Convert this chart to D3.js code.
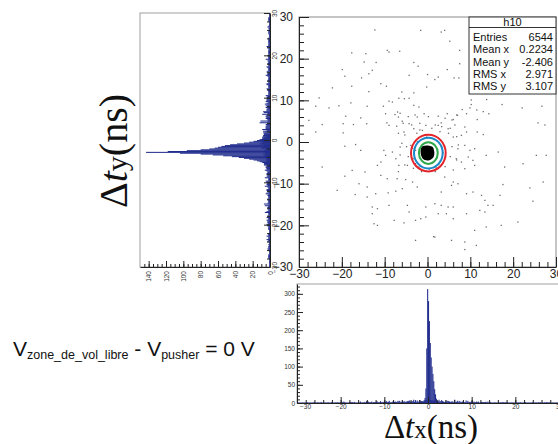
<!DOCTYPE html>
<html><head><meta charset="utf-8">
<script src="https://cdn.jsdelivr.net/npm/d3@7"></script>
<style>body{margin:0;background:#fff}svg{display:block}</style>
</head><body>
<svg id="c" width="558" height="444"></svg>
<script>
// ---------------- DATA ----------------
const axisTicks = [-30, -20, -10, 0, 10, 20, 30];
const xHistCountTicks = [0, 50, 100, 150, 200, 250, 300];
const yHistCountTicks = [0, 20, 40, 60, 80, 100, 120, 140];
const binWidth = 0.2;

// Projection on x (bottom histogram): core bins
const xHistCenters = [-1.1, -0.9, -0.7, -0.5, -0.3, -0.1, 0.1, 0.3, 0.5, 0.7, 0.9, 1.1, 1.3, 1.5, 1.7, 1.9, 2.1, 2.3, 2.5];
const xHistCounts  = [3, 6, 14, 40, 150, 313, 280, 225, 165, 125, 100, 80, 60, 38, 24, 12, 6, 3, 2];
// Tail level of the x projection, per 1 ns from -30 to 30 (counts per bin)
const xTailLevel = [1,1,1,1,1,1,1,1,1,1, 1,1,1,1,1,1,2,1,2,2, 2,2,2,2,2,3,3,3,4,6, 8,5,4,3,3,2,2,2,2,2, 2,1,2,1,1,1,1,1,1,1, 1,1,1,1,1,1,1,1,1,1];

// Projection on y (left, rotated histogram): core bins
const yHistCenters = [1.1, 0.9, 0.7, 0.5, 0.3, 0.1, -0.1, -0.3, -0.5, -0.7, -0.9, -1.1, -1.3, -1.5, -1.7, -1.9, -2.1, -2.3, -2.5, -2.7, -2.9, -3.1, -3.3, -3.5, -3.7, -3.9, -4.1, -4.3, -4.5, -4.7, -4.9, -5.1, -5.3, -5.5, -5.7, -5.9, -6.1, -6.3];
const yHistCounts  = [3, 4, 5, 7, 9, 12, 15, 19, 24, 30, 38, 46, 52, 56, 60, 64, 70, 80, 96, 118, 143, 104, 80, 66, 54, 44, 36, 30, 24, 19, 15, 12, 9, 7, 5, 4, 3, 2];
// Tail level of the y projection, per 1 ns from -30 to 30 (counts per bin)
const yTailLevel = [1,1,2,1,2,1,2,2,1,2, 2,2,2,2,2,2,2,2,2,3, 2,3,3,3,3,3,4,5,6,8, 8,6,4,3,3,3,3,3,2,3, 2,2,2,2,2,2,2,2,2,2, 2,1,2,2,1,2,1,1,2,1];

// Scatter points [dtx, dty] (ns)
const scatterQ1 = [[-12.3,26.9],[-1.6,26.8],[-17.7,21.4],[-14.4,21.2],[-9.4,22.0],[-9.0,21.6],[-6.5,21.8],[-14.8,19.2],[-12.0,19.1],[-3.2,19.1],[-19.9,17.4],[-2.2,18.2],[-19.3,15.8],[-12.9,17.2],[-13.7,16.4],[-15.4,15.4],[-4.3,16.0],[0.0,16.2],[-10.9,14.0],[-9.6,13.4],[-22.2,13.0],[-17.7,13.4],[-13.7,12.1],[-6.0,12.0],[-0.2,13.2],[-25.3,10.6],[-6.7,10.5],[-5.4,10.4],[-4.3,10.5],[-3.2,11.8],[-8.2,9.6],[-26.1,8.6],[-23.0,8.2],[-20.7,8.7],[-17.9,9.4],[-14.1,8.6],[-10.3,8.6],[-9.0,9.8],[-3.2,8.8],[-2.0,8.4],[-27.7,5.2],[-19.1,6.2],[-15.6,5.8],[-9.8,6.8],[-7.6,6.6],[-7.0,7.2],[-6.8,6.0],[-5.9,5.0],[-2.4,6.0],[-0.8,6.8],[-24.6,4.2],[-19.7,4.4],[-17.3,4.2],[-14.2,4.4],[-9.5,4.6],[-9.0,4.0],[-7.2,3.8],[-4.3,4.4],[-26.1,2.4],[-19.7,2.2],[-5.5,2.4],[-3.2,3.2],[-1.2,2.8],[-0.4,4.0]];
const scatterQ2 = [[3.2,26.4],[4.0,26.8],[5.2,24.2],[7.5,22.0],[7.5,18.8],[4.6,17.4],[6.2,15.4],[7.3,15.4],[1.7,15.0],[2.5,15.6],[10.2,9.0],[8.1,7.8],[9.9,8.2],[4.6,6.8],[7.0,6.4],[9.1,6.8],[6.0,5.4],[3.2,4.6],[11.6,5.4],[14.3,6.8],[17.4,9.0],[22.1,8.2],[26.7,8.6],[25.8,4.6],[27.4,4.1],[8.7,3.6],[4.8,3.2],[9.1,2.4],[11.6,2.4],[7.9,1.6],[13.0,1.8],[2.5,4.0],[6.0,1.2],[10.2,10.1],[13.8,10.2],[11.5,7.7],[13.0,7.3]];
const scatterQ3 = [[-19.3,-1.0],[-16.8,-0.6],[-15.6,-2.0],[-24.6,-6.0],[-10.2,-2.0],[-9.8,-3.2],[-8.2,-2.4],[-7.4,-4.0],[-10.9,-4.8],[-11.7,-5.6],[-6.7,-5.6],[-4.7,-5.6],[-17.6,-6.8],[-14.6,-7.2],[-19.3,-8.2],[-16.0,-10.0],[-14.1,-10.8],[-10.9,-8.0],[-9.4,-8.8],[-7.1,-8.8],[-5.1,-9.0],[-3.5,-9.6],[-21.1,-11.6],[-16.9,-12.6],[-14.1,-13.2],[-12.1,-12.4],[-9.2,-12.2],[-7.4,-11.8],[-5.9,-11.2],[-2.4,-10.8],[-12.9,-15.6],[-11.7,-16.0],[-9.0,-15.2],[-4.7,-15.2],[-4.3,-16.8],[-0.4,-15.6],[-12.9,-17.2],[-12.5,-19.6],[-11.7,-20.0],[-7.8,-18.8],[-5.5,-19.4],[-2.8,-18.8],[-1.6,-18.4],[-0.4,-18.0],[-2.8,-23.6],[-3.9,-0.8],[-2.8,-2.0],[-6.4,-1.2],[1.4,-22.7]];
const scatterQ4 = [[7.1,-1.6],[8.7,-0.8],[9.9,-2.0],[11.0,-1.6],[6.7,-4.0],[7.9,-4.8],[9.5,-3.6],[10.6,-4.4],[11.0,-5.6],[8.7,-6.4],[13.7,-3.2],[16.5,-2.4],[18.0,-6.0],[22.3,-5.2],[25.4,-3.2],[27.7,-3.2],[27.0,-9.6],[23.9,-11.0],[17.6,-10.2],[16.9,-12.8],[24.6,-14.2],[6.0,-9.6],[4.0,-8.4],[5.6,-10.4],[7.1,-10.0],[3.2,-12.0],[9.1,-12.4],[10.6,-12.0],[12.6,-12.8],[13.4,-14.0],[14.1,-15.2],[15.3,-15.2],[1.7,-14.8],[3.2,-15.2],[4.8,-15.6],[6.0,-15.6],[2.5,-17.2],[4.4,-17.2],[6.0,-18.4],[9.1,-17.2],[12.2,-16.4],[13.4,-16.8],[13.7,-20.4],[17.2,-20.0],[21.1,-19.2],[11.0,-21.2],[1.7,-22.8],[5.6,-23.6],[8.7,-24.0],[11.4,-24.8],[8.7,-25.8]];
const scatterHalo = [[-6.4,6.9],[-4.5,6.1],[-2.9,6.5],[0.2,6.1],[2.5,6.2],[4.1,5.7],[5.7,5.3],[6.8,6.5],[-5.7,4.5],[-3.7,4.1],[-1.8,4.5],[1.8,4.1],[3.3,3.7],[5.3,3.3],[6.4,4.1],[-6.8,2.1],[-5.3,1.7],[4.9,2.1],[6.8,1.3],[-6.0,-0.3],[-4.9,-1.1],[5.7,-1.1],[7.2,-0.7],[-6.4,-3.1],[-4.5,-3.5],[5.3,-3.5],[6.8,-4.3],[-5.3,-5.5],[-3.3,-6.3],[-1.4,-7.1],[1.8,-7.1],[4.1,-5.9],[6.0,-6.7],[-6.8,-7.1],[1.0,3.3],[-1.8,2.9],[-2.5,2.1],[2.9,2.5],[-3.5,-1.5],[-3.2,-4.0],[3.3,-1.0],[3.0,-4.5],[-2.0,-6.0],[2.0,-6.2],[-1.0,0.8],[1.5,0.6],[-3.8,-2.8],[3.6,-2.6],[-2.8,-5.2],[2.6,-5.4],[-2.4,0.1],[2.3,0.2],[-0.2,1.2],[0.4,-6.5]];

// Saturated core of the 2D histogram (outline)
const coreX = [-1.3, -0.6, 0.4, 1.2, 1.5, 1.6, 1.3, 0.6, -0.4, -1.1, -1.5, -1.6];
const coreY = [-1.1, -0.9, -0.9, -1.2, -1.9, -2.9, -3.8, -4.3, -4.4, -4.0, -3.2, -2.0];

// Contour levels (ellipse half-axes in ns)
const contourCX = 0.2, contourCY = -2.65;
const contourRX = [4.05, 3.35, 2.2];
const contourRY = [4.4, 3.7, 2.6];
const contourColors = ["#e3242b", "#1b88c8", "#2ea84a"];

// Stats box
const statsTitle = "h10";
const statsLabels = ["Entries", "Mean x", "Mean y", "RMS x", "RMS y"];
const statsValues = ["6544", "0.2234", "-2.406", "2.971", "3.107"];

// ---------------- DRAW ----------------
const sans = "'Liberation Sans', Arial, sans-serif";
const serif = "'Liberation Serif', 'Times New Roman', serif";
const histColor = "#232f8e";
const svg = d3.select("#c");
svg.append("rect").attr("width", 558).attr("height", 444).attr("fill", "#fff");

const allPoints = scatterQ1.concat(scatterQ2, scatterQ3, scatterQ4, scatterHalo);
const tailEdges = d3.range(-30, 30, binWidth);

function styleAxis(g, size, color) {
  g.attr("font-family", sans).attr("font-size", size);
  g.selectAll("text").attr("fill", color || "#222");
  g.selectAll("line").attr("stroke", "#222");
  g.select(".domain").attr("stroke", "#222");
}
function minorOnly(g) {
  g.select(".domain").remove();
  g.selectAll("text").remove();
}
// tail bins: typed level per ns + binned scatter entries on top
function tailBins(values, level) {
  const bins = d3.bin().domain([-30, 30]).thresholds(tailEdges)(values);
  return bins.map(b => ({ x0: b.x0, x1: b.x1, n: level[Math.min(59, Math.floor(b.x0 + 30 + 1e-6))] + b.length }));
}

// ===== Main scatter =====
const mx = d3.scaleLinear().domain([-30, 30]).range([299, 556]);
const my = d3.scaleLinear().domain([-30, 30]).range([267, 17]);

svg.append("rect").attr("x", mx(-30)).attr("y", my(30)).attr("width", mx(30) - mx(-30)).attr("height", my(-30) - my(30))
  .attr("fill", "#fff").attr("stroke", "#8a8a8a").attr("stroke-width", 1);

svg.append("g").selectAll("rect").data(allPoints).join("rect")
  .attr("x", d => mx(d[0]) - 0.6).attr("y", d => my(d[1]) - 0.6)
  .attr("width", 1.3).attr("height", 1.3).attr("fill", "#6e6e6e");

svg.append("path")
  .attr("d", d3.line().x(d => mx(d[0])).y(d => my(d[1])).curve(d3.curveCatmullRomClosed)(coreX.map((x, i) => [x, coreY[i]])))
  .attr("fill", "#000");

svg.append("g").selectAll("ellipse").data(contourRX).join("ellipse")
  .attr("cx", mx(contourCX)).attr("cy", my(contourCY))
  .attr("rx", d => mx(d) - mx(0)).attr("ry", (d, i) => my(0) - my(contourRY[i]))
  .attr("fill", "none").attr("stroke", (d, i) => contourColors[i]).attr("stroke-width", 2);

svg.append("g").attr("transform", `translate(${mx(-30)},0)`)
  .call(d3.axisLeft(my).tickValues(d3.range(-30, 31, 2)).tickSize(-5).tickSizeOuter(0))
  .call(minorOnly).call(g => styleAxis(g, 12));
svg.append("g").attr("transform", `translate(${mx(-30)},0)`)
  .call(d3.axisLeft(my).tickValues(axisTicks).tickSize(-10).tickPadding(6).tickSizeOuter(0))
  .call(g => styleAxis(g, 12));
svg.append("g").attr("transform", `translate(0,${my(-30)})`)
  .call(d3.axisBottom(mx).tickValues(d3.range(-30, 31, 2)).tickSize(-5).tickSizeOuter(0))
  .call(minorOnly).call(g => styleAxis(g, 12));
svg.append("g").attr("transform", `translate(0,${my(-30)})`)
  .call(d3.axisBottom(mx).tickValues(axisTicks).tickSize(-10).tickPadding(2).tickSizeOuter(0))
  .call(g => styleAxis(g, 12));

// Stats box
const sb = { x: 469, y: 17, w: 87, h: 77 };
const stats = svg.append("g").attr("font-family", sans).attr("font-size", 11).attr("fill", "#111");
stats.append("rect").attr("x", sb.x).attr("y", sb.y).attr("width", sb.w).attr("height", sb.h)
  .attr("fill", "#fff").attr("stroke", "#333");
stats.append("line").attr("x1", sb.x).attr("x2", sb.x + sb.w).attr("y1", sb.y + 10.5).attr("y2", sb.y + 10.5).attr("stroke", "#333");
stats.append("text").attr("x", sb.x + sb.w / 2).attr("y", sb.y + 9).attr("text-anchor", "middle").text(statsTitle);
statsLabels.forEach((l, i) => {
  const yy = sb.y + 24 + i * 12.3;
  stats.append("text").attr("x", sb.x + 4).attr("y", yy).text(l);
  stats.append("text").attr("x", sb.x + sb.w - 3).attr("y", yy).attr("text-anchor", "end").text(statsValues[i]);
});

// ===== Bottom histogram (projection on x) =====
const bx = d3.scaleLinear().domain([-30, 30]).range([297, 559]);
const by = d3.scaleLinear().domain([0, 327]).range([403, 284]);
svg.append("rect").attr("x", 297).attr("y", 284).attr("width", 262).attr("height", 119)
  .attr("fill", "#fff").attr("stroke", "#a0a0a0");

svg.append("g").selectAll("rect").data(tailBins(allPoints.map(d => d[0]), xTailLevel)).join("rect")
  .attr("x", b => bx(b.x0)).attr("width", b => bx(b.x1) - bx(b.x0) + 0.2)
  .attr("y", b => by(b.n)).attr("height", b => by(0) - by(b.n)).attr("fill", histColor);
svg.append("g").selectAll("rect").data(xHistCenters).join("rect")
  .attr("x", c => bx(c - binWidth / 2)).attr("width", c => bx(c + binWidth / 2) - bx(c - binWidth / 2) + 0.2)
  .attr("y", (c, i) => by(xHistCounts[i])).attr("height", (c, i) => by(0) - by(xHistCounts[i])).attr("fill", histColor);

svg.append("g").attr("transform", "translate(297,0)")
  .call(d3.axisLeft(by).tickValues(d3.range(0, 321, 10)).tickSize(-3).tickSizeOuter(0))
  .call(minorOnly).call(g => styleAxis(g, 6.5));
svg.append("g").attr("transform", "translate(297,0)")
  .call(d3.axisLeft(by).tickValues(xHistCountTicks).tickSize(-6).tickPadding(2).tickSizeOuter(0))
  .call(g => styleAxis(g, 6.5, "#333"));
svg.append("g").attr("transform", "translate(0,403)")
  .call(d3.axisBottom(bx).tickValues(d3.range(-30, 31, 2)).tickSize(-3).tickSizeOuter(0))
  .call(minorOnly).call(g => styleAxis(g, 6.5));
svg.append("g").attr("transform", "translate(0,403)")
  .call(d3.axisBottom(bx).tickValues(axisTicks).tickSize(-6).tickPadding(1).tickSizeOuter(0))
  .call(g => styleAxis(g, 6.5, "#333"))
  .call(g => g.selectAll(".tick").filter(d => d === -30).select("text").attr("x", 8));

// ===== Left histogram (projection on y, rotated) =====
const ly = d3.scaleLinear().domain([-30, 30]).range([267, 13]);
const lc = d3.scaleLinear().domain([0, 150]).range([270, 140]);
svg.append("rect").attr("x", 140).attr("y", 13).attr("width", 130).attr("height", 254)
  .attr("fill", "#fff").attr("stroke", "#a0a0a0");

svg.append("g").selectAll("rect").data(tailBins(allPoints.map(d => d[1]), yTailLevel)).join("rect")
  .attr("y", b => ly(b.x1)).attr("height", b => ly(b.x0) - ly(b.x1) + 0.2)
  .attr("x", b => lc(b.n)).attr("width", b => lc(0) - lc(b.n)).attr("fill", histColor);
svg.append("g").selectAll("rect").data(yHistCenters).join("rect")
  .attr("y", c => ly(c + binWidth / 2)).attr("height", c => ly(c - binWidth / 2) - ly(c + binWidth / 2) + 0.2)
  .attr("x", (c, i) => lc(yHistCounts[i])).attr("width", (c, i) => lc(0) - lc(yHistCounts[i])).attr("fill", histColor);

svg.append("g").attr("transform", "translate(270,0)")
  .call(d3.axisRight(ly).tickValues(d3.range(-30, 31, 2)).tickSize(-3).tickSizeOuter(0))
  .call(minorOnly).call(g => styleAxis(g, 6.5));
svg.append("g").attr("transform", "translate(270,0)")
  .call(d3.axisRight(ly).tickValues(axisTicks).tickSize(-6).tickSizeOuter(0))
  .call(g => styleAxis(g, 6.5, "#333"))
  .call(g => g.selectAll("text").attr("x", 0).attr("dy", 0).attr("text-anchor", "middle")
    .attr("transform", "translate(7,0) rotate(-90)"));
svg.append("g").attr("transform", "translate(0,267)")
  .call(d3.axisBottom(lc).tickValues(d3.range(0, 146, 5)).tickSize(-3).tickSizeOuter(0))
  .call(minorOnly).call(g => styleAxis(g, 6.5));
svg.append("g").attr("transform", "translate(0,267)")
  .call(d3.axisBottom(lc).tickValues(yHistCountTicks).tickSize(-6).tickSizeOuter(0))
  .call(g => styleAxis(g, 6.5, "#333"))
  .call(g => g.selectAll("text").attr("x", 0).attr("y", 0).attr("dy", "0.35em").attr("text-anchor", "end")
    .attr("transform", "translate(0,4) rotate(-90)"));

// ===== Titles =====
const tx = svg.append("text").attr("x", 431).attr("y", 438).attr("text-anchor", "middle")
  .attr("font-family", serif).attr("font-size", 33).attr("fill", "#111");
tx.append("tspan").text("Δ");
tx.append("tspan").attr("font-style", "italic").text("t");
tx.append("tspan").attr("font-size", 25).text("x");
tx.append("tspan").text("(ns)");

const ty = svg.append("text").attr("transform", "translate(127,151) rotate(-90)").attr("text-anchor", "middle")
  .attr("font-family", serif).attr("font-size", 40).attr("fill", "#111");
ty.append("tspan").text("Δ");
ty.append("tspan").attr("font-style", "italic").text("t");
ty.append("tspan").attr("font-size", 30).text("y");
ty.append("tspan").text("(ns)");

const vt = svg.append("text").attr("x", 13).attr("y", 356).attr("font-family", sans).attr("font-size", 21).attr("fill", "#111");
vt.append("tspan").text("V");
vt.append("tspan").attr("font-size", 12.5).attr("dy", 3).text("zone_de_vol_libre");
vt.append("tspan").attr("dy", -3).text(" - V");
vt.append("tspan").attr("font-size", 12.5).attr("dy", 3).text("pusher");
vt.append("tspan").attr("dy", -3).text(" = 0 V");
</script>
</body></html>
